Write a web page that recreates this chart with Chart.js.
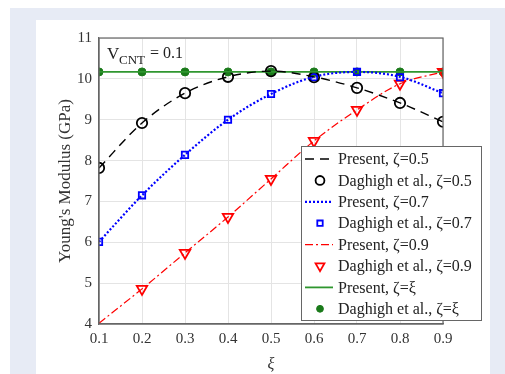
<!DOCTYPE html>
<html><head><meta charset="utf-8">
<script src="https://cdn.jsdelivr.net/npm/chart.js@4"></script>
<style>html,body{margin:0;padding:0;background:#fff;}#wrap{position:absolute;left:0;top:0;width:505px;height:374px;}</style>
</head><body><div id="wrap"><canvas id="c" width="505" height="374"></canvas></div>
<script>
const xi = [0.1,0.2,0.3,0.4,0.5,0.6,0.7,0.8,0.9];
const present05 = [7.82,8.92,9.65,10.05,10.19,10.05,9.78,9.41,8.95];
const daghigh05 = [7.82,8.92,9.65,10.05,10.19,10.04,9.78,9.41,8.95];
const present07 = [6.01,7.15,8.14,9.0,9.63,10.05,10.17,10.05,9.65];
const daghigh07 = [6.01,7.15,8.14,9.0,9.63,10.04,10.17,10.04,9.65];
const present09 = [4.02,4.86,5.74,6.62,7.55,8.48,9.24,9.88,10.17];
const daghigh09 = [null,4.86,5.74,6.62,7.55,8.48,9.24,9.88,10.17];
const presentXi = [10.17,10.17,10.17,10.17,10.17,10.17,10.17,10.17,10.17];
const daghighXi = [10.17,10.17,10.17,10.17,10.17,10.17,10.17,10.17,10.17];
const xTicks = [0.1,0.2,0.3,0.4,0.5,0.6,0.7,0.8,0.9];
const yTicks = [4,5,6,7,8,9,10,11];
const legendLabels = ["Present, \u03B6=0.5","Daghigh et al., \u03B6=0.5","Present, \u03B6=0.7","Daghigh et al., \u03B6=0.7","Present, \u03B6=0.9","Daghigh et al., \u03B6=0.9","Present, \u03B6=\u03BE","Daghigh et al., \u03B6=\u03BE"];

const SERIF = "'Liberation Serif','Times New Roman',serif";
const pts = arr => arr.map((v,i)=>({x:xi[i], y:v}));

const lineDs = (label,data,color,dash,w) => ({label,data:pts(data),borderColor:color,borderWidth:w,borderDash:dash,pointRadius:0,cubicInterpolationMode:'monotone',fill:false});
const markDs = (label,data,color,style,r,fillc,rot,bw) => ({label,data:pts(data),showLine:false,borderColor:color,backgroundColor:fillc,pointStyle:style,pointRadius:r,pointBorderWidth:bw,pointRotation:rot||0});

const GREEN='#2f962f';
const datasets = [
  lineDs(legendLabels[0],present05,'#000000',[9,6],1.4),
  lineDs(legendLabels[2],present07,'#0000ff',[2,2],2.2),
  lineDs(legendLabels[4],present09,'#ff0000',[8,3,2,3],1.2),
  lineDs(legendLabels[6],presentXi,GREEN,[],1.8),
  markDs(legendLabels[1],daghigh05,'#000000','circle',5.2,'rgba(0,0,0,0)',0,1.8),
  markDs(legendLabels[3],daghigh07,'#0000ff','rect',4.5,'rgba(0,0,0,0)',0,1.8),
  markDs(legendLabels[5],daghigh09,'#ff0000','triangle',6,'rgba(0,0,0,0)',180,1.8),
  markDs(legendLabels[7],daghighXi,'#1a7a1a','circle',4,'#1a7a1a',0,1),
];

const bgPlugin = {id:'bg', beforeDraw(ch){const c=ch.ctx;c.save();c.fillStyle='#ffffff';c.fillRect(0,0,505,374);c.fillStyle='#e7ebf5';c.fillRect(10,8,495,366);c.fillStyle='#ffffff';c.fillRect(36,20,454,354);c.restore();}};

const decoPlugin = {id:'deco', afterDraw(ch){
  const c=ch.ctx, a=ch.chartArea;
  c.save();
  c.strokeStyle='#666'; c.lineWidth=1.2;
  c.strokeRect(a.left,a.top,a.right-a.left,a.bottom-a.top);
  c.fillStyle='#222'; c.textBaseline='alphabetic';
  c.font='17px '+SERIF; c.fillText('V',107,59);
  c.font='13px '+SERIF; c.fillText('CNT',119,64);
  c.font='16px '+SERIF; c.fillText('= 0.1',150,58);
  const bx=301, by=146, bw=180, bh=174;
  c.fillStyle='#fff'; c.fillRect(bx,by,bw,bh);
  c.strokeStyle='#666'; c.lineWidth=1; c.strokeRect(bx+0.5,by+0.5,bw,bh);
  c.font='16px '+SERIF; c.textBaseline='middle';
  const order=[0,4,1,5,2,6,3,7];
  for(let i=0;i<8;i++){
    const y=by+13+i*21.4;
    const ds=ch.data.datasets[order[i]];
    if(i%2===0){
      c.save(); c.strokeStyle=ds.borderColor; c.lineWidth=ds.borderWidth; c.setLineDash(ds.borderDash||[]);
      c.beginPath(); c.moveTo(305,y); c.lineTo(333,y); c.stroke(); c.restore();
    } else {
      c.save(); c.strokeStyle=ds.borderColor; c.fillStyle=ds.backgroundColor; c.lineWidth=ds.pointBorderWidth; c.setLineDash([]);
      Chart.helpers.drawPoint(c,{pointStyle:ds.pointStyle,radius:ds.pointRadius*0.85,rotation:ds.pointRotation,borderWidth:ds.pointBorderWidth},320,y);
      c.restore();
    }
    c.fillStyle='#222'; c.fillText(legendLabels[i],338,y+1);
  }
  c.restore();
}};

new Chart(document.getElementById('c'),{
  type:'line',
  data:{datasets},
  options:{
    responsive:false, animation:false,
    layout:{padding:{left:55,top:38,right:62,bottom:0}},
    plugins:{legend:{display:false},tooltip:{enabled:false}},
    scales:{
      x:{type:'linear',min:0.1,max:0.9,
        afterBuildTicks(s){s.ticks=xTicks.map(v=>({value:v}));},
        afterFit(s){s.height=50;},
        grid:{color:'#e4e4e4',drawTicks:false},
        border:{color:'#666',width:1.2},
        ticks:{padding:6,color:'#333',font:{family:SERIF,size:15},callback:v=>v.toFixed(1)},
        title:{display:true,text:'\u03BE',color:'#333',font:{family:SERIF,size:16,style:'italic'},padding:{top:0,bottom:0}}
      },
      y:{min:4,max:11,
        afterBuildTicks(s){s.ticks=yTicks.map(v=>({value:v}));},
        afterFit(s){s.width=44;},
        grid:{color:'#e4e4e4',drawTicks:false},
        border:{color:'#666',width:1.2},
        ticks:{padding:7,color:'#333',font:{family:SERIF,size:15}},
        title:{display:true,text:"Young's Modulus (GPa)",color:'#333',font:{family:SERIF,size:17},padding:{top:0,bottom:0}}
      }
    }
  },
  plugins:[bgPlugin,decoPlugin]
});
</script></body></html>
